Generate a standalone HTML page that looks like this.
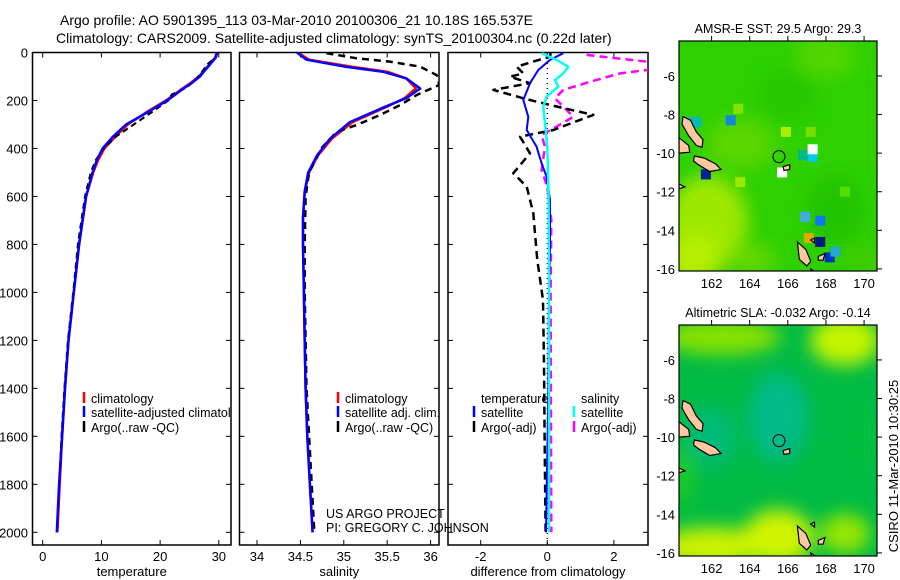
<!DOCTYPE html>
<html><head><meta charset="utf-8"><style>
body{margin:0;background:#fff;}
svg{display:block;font-family:"Liberation Sans",sans-serif;}
text{fill:#000;}
</style></head><body>
<svg id="fig" width="900" height="580" viewBox="0 0 900 580" xmlns="http://www.w3.org/2000/svg">
<defs>
<clipPath id="c1"><rect x="32.5" y="52.5" width="198.5" height="492.5"/></clipPath>
<clipPath id="c2"><rect x="239.5" y="52.5" width="199.5" height="492.5"/></clipPath>
<clipPath id="c3"><rect x="448" y="52.5" width="200" height="492.5"/></clipPath>
<clipPath id="m1"><rect x="679" y="41" width="198" height="230"/></clipPath>
<clipPath id="m2"><rect x="679" y="325" width="198" height="231"/></clipPath>
<filter id="bl" x="-50%" y="-50%" width="200%" height="200%"><feGaussianBlur stdDeviation="9"/></filter>
</defs>
<text x="60" y="25" font-size="14">Argo profile: AO 5901395_113 03-Mar-2010 20100306_21 10.18S 165.537E</text>
<text x="56" y="43" font-size="14">Climatology: CARS2009. Satellite-adjusted climatology: synTS_20100304.nc (0.22d later)</text>
<g id="panels"></g>
<g id="maps"></g>
<text transform="translate(898,466) rotate(-90)" text-anchor="middle" font-size="13">CSIRO 11-Mar-2010 10:30:25</text>
</svg>
<script>
// ---- data ----
const depthTicks=[0,200,400,600,800,1000,1200,1400,1600,1800,2000];
const depthT=[0,20,50,75,100,125,150,175,200,250,300,350,400,450,500,600,700,800,1000,1200,1400,1600,1800,2000];
const tempClim=[29.6,29.4,28.4,27.5,26.6,25.3,23.8,22.4,21.0,17.6,14.5,12.4,10.5,9.4,8.6,7.4,6.8,6.2,5.3,4.4,3.8,3.3,2.9,2.5];
const tempSat=[29.7,29.5,28.5,27.6,26.8,25.5,24.0,22.6,21.2,17.8,14.2,12.0,10.2,9.2,8.5,7.4,6.8,6.2,5.3,4.4,3.8,3.3,2.8,2.4];
const tempArgo=[29.8,29.5,28.0,27.3,26.5,25.6,24.2,22.0,21.4,18.5,15.5,12.5,10.4,9.0,8.2,7.2,6.6,6.0,5.2,4.3,3.7,3.2,2.8,2.4];
const depthS=[0,30,60,80,108,150,190,230,290,360,430,500,580,690,800,1000,1200,1400,1600,1800,2000];
const salSat=[34.46,34.57,35.03,35.45,35.72,35.88,35.72,35.45,35.07,34.84,34.69,34.59,34.55,34.53,34.53,34.54,34.55,34.56,34.58,34.61,34.64];
const salClim=[34.47,34.6,35.1,35.5,35.72,35.83,35.70,35.47,35.1,34.86,34.7,34.6,34.55,34.53,34.53,34.54,34.55,34.56,34.58,34.61,34.64];
const depthSA=[3,24,38,59,94,135,177,219,260,302,330,400,500,600,800,1000,1200,1400,1600,1800,2000];
const salArgo=[34.8,35.15,35.53,35.88,36.07,36.1,35.84,35.65,35.42,35.15,34.92,34.74,34.6,34.56,34.55,34.55,34.56,34.57,34.6,34.63,34.66];
const depthD1=[3,31,73,128,198,268,323,393,462,518,615,800,1000,1500,2000];
const tDiffSat=[0.48,0.08,-0.27,-0.52,-0.72,-0.57,-0.62,-0.32,-0.17,-0.02,0.08,0.08,0.05,0.02,-0.04];
const depthD2=[3,17,38,59,87,101,128,156,191,219,260,323,351,420,503,559,670,754,865,1032,1300,1600,2000];
const tDiffArgo=[0.1,0.08,-0.42,-0.92,-0.72,-1.12,-0.52,-1.62,-0.72,0.08,1.38,0.18,-0.82,-0.52,-1.02,-0.62,-0.42,-0.37,-0.3,-0.13,-0.1,-0.08,-0.05];
const depthD3=[3,31,59,87,115,142,184,226,295,393,600,1000,2000];
const sDiffSat=[-0.17,0.28,0.63,0.48,0.23,0.33,-0.02,-0.12,-0.07,0,0.04,0.05,0.05];
const depthD4=[10,24,38,55,73,87,122,156,191,226,268,309,344,393,490,559,700,1000,2000];
const sDiffArgo=[1.18,2.08,2.98,3.3,2.98,2.18,1.28,0.48,0.23,0.48,0.78,0.28,-0.17,-0.07,-0.17,0,0.12,0.1,0.12];
const tempTicks=[0,10,20,30];
const salTicks=[34,34.5,35,35.5,36];
const diffTicks=[-2,0,2];
const latTicks=[-6,-8,-10,-12,-14,-16];
const lonTicks=[162,164,166,168,170];

const NS='http://www.w3.org/2000/svg';
function mk(tag,attrs,parent){const e=document.createElementNS(NS,tag);for(const k in attrs)e.setAttribute(k,attrs[k]);parent.appendChild(e);return e;}
const Y=d=>52.5+d*0.2399;
const panels=document.getElementById('panels');
const P=[
 {name:'temperature',x0:32.5,x1:231,X:v=>42.7+v*5.87,ticks:tempTicks,clip:'c1',title:'temperature'},
 {name:'salinity',x0:239.5,x1:439,X:v=>257+(v-34)*86.8,ticks:salTicks,clip:'c2',title:'salinity'},
 {name:'difference',x0:448,x1:648,X:v=>547.3+v*33.3,ticks:diffTicks,clip:'c3',title:'difference from climatology'}
];
P.forEach((p,i)=>{
 const g=mk('g',{},panels);
 
 
 const fr=mk('rect',{x:p.x0,y:52.5,width:p.x1-p.x0,height:492.5,fill:'none',stroke:'#000','stroke-width':1.5},g);
 
 
 p.ticks.forEach(t=>{const x=p.X(t);
  mk('line',{x1:x,x2:x,y1:545,y2:540,stroke:'#000'},g);
  mk('line',{x1:x,x2:x,y1:52.5,y2:57.5,stroke:'#000'},g);
  const tx=mk('text',{x:x,y:561,'text-anchor':'middle','font-size':13},g);tx.textContent=t;
  
  
 });
 depthTicks.forEach(d=>{const y=Y(d);
  mk('line',{x1:p.x0,x2:p.x0+5,y1:y,y2:y,stroke:'#000'},g);
  mk('line',{x1:p.x1,x2:p.x1-5,y1:y,y2:y,stroke:'#000'},g);
  if(i==0){const tx=mk('text',{x:28,y:y+5,'text-anchor':'end','font-size':13},g);tx.textContent=d;
   
   }
 });
 const at=mk('text',{x:(p.x0+p.x1)/2,y:576,'text-anchor':'middle','font-size':13},g);at.textContent=p.title;
 
 
});
function line(pi,vals,depths,color,dash,name,w){
 const p=P[pi];
 const pts=vals.map((v,k)=>p.X(v).toFixed(1)+','+Y(depths[k]).toFixed(1)).join(' ');
 const e=mk('polyline',{points:pts,fill:'none',stroke:color,'stroke-width':w||2.5,'clip-path':'url(#'+p.clip+')','stroke-linejoin':'round'},panels);
 if(dash)e.setAttribute('stroke-dasharray',dash);
 
 
}
line(0,tempClim,depthT,'#f00',null,'temp-climatology-line');
line(0,tempArgo,depthT,'#000','6,4','temp-argo-line',2);
line(0,tempSat,depthT,'#00f',null,'temp-satellite-line');
line(1,salClim,depthS,'#f00',null,'sal-climatology-line');
line(1,salArgo,depthSA,'#000','7,5','sal-argo-line',2.5);
line(1,salSat,depthS,'#00f',null,'sal-satellite-line');
(function(){const x=P[2].X(0);const e=mk('line',{x1:x,x2:x,y1:53,y2:545,stroke:'#000','stroke-dasharray':'1,4','stroke-width':1.3},panels);
 })();
line(2,sDiffArgo,depthD4,'#f0f','8,5','sal-diff-argo-line',2.5);
line(2,tDiffArgo,depthD2,'#000','8,5','temp-diff-argo-line',2.5);
line(2,tDiffSat,depthD1,'#00f',null,'temp-diff-satellite-line',2);
line(2,sDiffSat,depthD3,'#0ff',null,'sal-diff-satellite-line',2.5);
function leg(x,y,color,label,name){
 if(color){const m=mk('line',{x1:x,x2:x,y1:y-11,y2:y,stroke:color,'stroke-width':2.5},panels);
  }
 const t=mk('text',{x:x+7,y:y,'font-size':12.5,'clip-path':'url(#c1)'},panels);t.textContent=label;
 if(x>230)t.removeAttribute('clip-path');
 
}
leg(84,403,'#f00','climatology','legend-climatology');
leg(84,417,'#00f','satellite-adjusted climatology','legend-satellite-adjusted');
leg(84,432,'#000','Argo(..raw -QC)','legend-argo-raw');
leg(338,403,'#f00','climatology','legend-sal-climatology');
leg(338,417,'#00f','satellite adj. clim.','legend-sal-satellite');
leg(338,432,'#000','Argo(..raw -QC)','legend-sal-argo');
leg(474,403,null,'temperature','legend-temp-heading');
leg(474,417,'#00f','satellite','legend-temp-satellite');
leg(474,432,'#000','Argo(-adj)','legend-temp-argo');
leg(574,403,null,'salinity','legend-sal-heading');
leg(574,417,'#0ff','satellite','legend-salt-satellite');
leg(574,432,'#f0f','Argo(-adj)','legend-salt-argo');
leg(319,518,null,'US ARGO PROJECT','project-label');
leg(319,532,null,'PI: GREGORY C. JOHNSON','pi-label');

// ---- maps ----
const maps=document.getElementById('maps');
const LX=lon=>679+(lon-160.29)*19.06;
const LYf=off=>lat=>off+(-4.19-lat)*19.3;
const islands=[
 [[160.5,-8.1],[160.9,-8.3],[161.2,-8.9],[161.55,-9.3],[161.5,-9.7],[161.2,-9.6],[160.8,-9.1],[160.45,-8.5]],
 [[161.1,-10.15],[161.6,-10.25],[162.2,-10.55],[162.5,-10.85],[161.9,-10.95],[161.3,-10.6],[161.05,-10.4]],
 [[160.29,-9.2],[160.8,-9.6],[160.85,-9.95],[160.29,-10.0]],
 [[166.5,-14.6],[166.95,-15.0],[167.2,-15.6],[167.0,-15.85],[166.6,-15.5]],
 [[165.75,-10.7],[166.1,-10.6],[166.1,-10.85],[165.8,-10.9]],
 [[167.6,-15.35],[167.95,-15.2],[167.85,-15.55],[167.6,-15.55]],
 [[167.2,-16.0],[167.5,-16.2],[167.3,-16.35]],
 [[167.2,-14.5],[167.4,-14.4],[167.4,-14.65]],
 [[160.29,-11.6],[160.6,-11.75],[160.29,-11.85]]
];
function drawMap(top,h,clip,title,base,blobs,name){
 const LY=LYf(top);
 const g=mk('g',{},maps);
 
 
 const cg=mk('g',{'clip-path':'url(#'+clip+')'},g);
 mk('rect',{x:679,y:top,width:198,height:h,fill:base},cg);
 const bg=mk('g',{filter:'url(#bl)'},cg);
 blobs.forEach(b=>mk('ellipse',{cx:LX(b[0]),cy:LY(b[1]),rx:b[2],ry:b[3],fill:b[4]},bg));
 const sg=mk('g',{},cg);
 islands.forEach(poly=>{const e=mk('polygon',{points:poly.map(q=>LX(q[0]).toFixed(1)+','+LY(q[1]).toFixed(1)).join(' '),fill:'#ffc8a0',stroke:'#000','stroke-width':1.2},cg);
  });
 const c=mk('circle',{cx:LX(165.537),cy:LY(-10.18),r:6,fill:'none',stroke:'#000','stroke-width':1},cg);
 
 mk('rect',{x:679,y:top,width:198,height:h,fill:'none',stroke:'#000','stroke-width':1.2},g);
 latTicks.forEach(l=>{const y=LY(l);mk('line',{x1:877,x2:882,y1:y,y2:y,stroke:'#000'},g);
  const t=mk('text',{x:675,y:y+5,'text-anchor':'end','font-size':13},g);t.textContent=l;
  });
 lonTicks.forEach(l=>{const x=LX(l);mk('line',{x1:x,x2:x,y1:top,y2:top-5,stroke:'#000'},g);
  const t=mk('text',{x:x,y:top+h+17,'text-anchor':'middle','font-size':13},g);t.textContent=l;
  });
 const tt=mk('text',{x:778,y:top-8,'text-anchor':'middle','font-size':12.5},g);tt.textContent=title;
 
 return sg;
}
const g1=drawMap(41,230,'m1','AMSR-E SST: 29.5 Argo: 29.3','#2ed000',[
 [161.8,-13.5,40,45,'#9ee800'],[161,-15.5,30,25,'#b6ee00'],[164,-15.5,25,15,'#66d800'],
 [163.5,-9.5,35,25,'#5cd600'],[168.5,-13,30,35,'#22c400'],[168,-5,30,20,'#55d600'],
 [166,-7,30,25,'#28c800'],[170,-15.5,20,15,'#40cc00']],'sst-map');
[[160.8,-8.4,'#22aadd'],[161.2,-8.4,'#00bbbb'],[163,-8.3,'#1188dd'],[167.3,-10.2,'#00ccdd'],[166.8,-10.1,'#00bb88'],[161.7,-11.1,'#002299'],[165.7,-11.0,'#ffffff'],[167.3,-9.8,'#ffffff'],
 [167.7,-14.6,'#001a80'],[168.2,-15.4,'#0033cc'],[167.1,-14.4,'#ddaa00'],[166.9,-13.3,'#44aadd'],[167.7,-13.5,'#1177ee'],[168.5,-15.1,'#22aacc'],[163.5,-11.5,'#9ee800'],[165.9,-8.9,'#aaee00'],[167.2,-8.9,'#77dd00'],[163.4,-7.7,'#88e200'],[169,-12,'#55dd00']].forEach(s=>{
 const r=mk('rect',{x:LX(s[0])-5,y:LYf(41)(s[1])-5,width:10,height:10,fill:s[2]},g1);
 });
drawMap(325,231,'m2','Altimetric SLA: -0.032 Argo: -0.14','#00bb44',[
 [162.5,-4.8,60,18,'#88e200'],[169,-5,35,25,'#c4f400'],[165.5,-9,30,45,'#00bb88'],[162,-10,25,30,'#00bb77'],
 [162,-15.7,55,20,'#ccf200'],[165.5,-15.2,35,28,'#d0f400'],[169,-15,25,20,'#99e600'],[160.5,-12,10,30,'#22cc22'],[170,-10,20,40,'#00c040']],'sla-map');
</script>
</body></html>
